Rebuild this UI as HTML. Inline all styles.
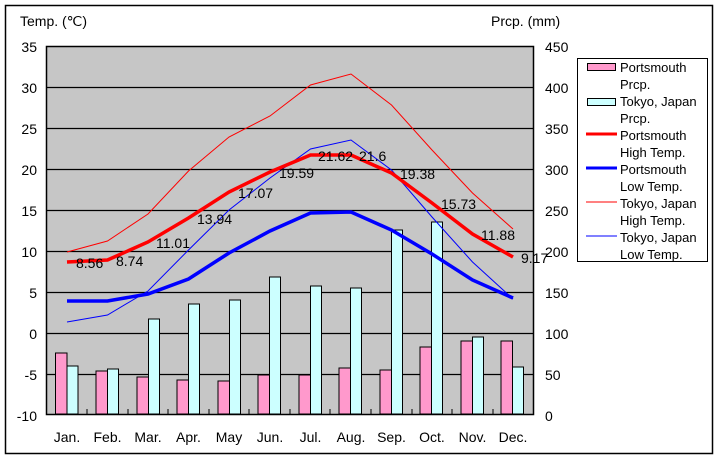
<!DOCTYPE html>
<html><head><meta charset="utf-8"><style>
body{margin:0;background:#fff}
svg text{font-family:"Liberation Sans",sans-serif}
</style></head><body>
<svg width="720" height="460" viewBox="0 0 720 460" xmlns="http://www.w3.org/2000/svg">
<rect x="0" y="0" width="720" height="460" fill="#fff"/>
<rect x="5.5" y="5.5" width="707" height="448" fill="none" stroke="#000" stroke-width="1.5"/>
<rect x="46.5" y="46.5" width="487" height="368" fill="#c6c6c6" stroke="#000" stroke-width="1.5"/>
<g stroke="#000" stroke-width="1.2">
<line x1="46" x2="533" y1="87.5" y2="87.5"/><line x1="46" x2="533" y1="128.5" y2="128.5"/>
<line x1="46" x2="533" y1="169.5" y2="169.5"/><line x1="46" x2="533" y1="210.5" y2="210.5"/>
<line x1="46" x2="533" y1="251.5" y2="251.5"/><line x1="46" x2="533" y1="292.5" y2="292.5"/>
<line x1="46" x2="533" y1="333.5" y2="333.5"/><line x1="46" x2="533" y1="374.5" y2="374.5"/>
</g>
<g stroke="#000" stroke-width="1">
<line x1="87" x2="87" y1="414" y2="409"/><line x1="128" x2="128" y1="414" y2="409"/><line x1="168" x2="168" y1="414" y2="409"/><line x1="209" x2="209" y1="414" y2="409"/><line x1="249" x2="249" y1="414" y2="409"/><line x1="290" x2="290" y1="414" y2="409"/><line x1="330" x2="330" y1="414" y2="409"/><line x1="371" x2="371" y1="414" y2="409"/><line x1="412" x2="412" y1="414" y2="409"/><line x1="452" x2="452" y1="414" y2="409"/><line x1="493" x2="493" y1="414" y2="409"/>
</g>
<g stroke="#000" stroke-width="1">
<rect x="55.5" y="353" width="11.5" height="61" fill="#ff99cc"/><rect x="67" y="366" width="11" height="48" fill="#ccffff"/>
<rect x="96" y="371" width="11.5" height="43" fill="#ff99cc"/><rect x="107.5" y="369" width="11" height="45" fill="#ccffff"/>
<rect x="137" y="377" width="11.5" height="37" fill="#ff99cc"/><rect x="148.5" y="319" width="11" height="95" fill="#ccffff"/>
<rect x="177" y="380" width="11.5" height="34" fill="#ff99cc"/><rect x="188.5" y="304" width="11" height="110" fill="#ccffff"/>
<rect x="218" y="381" width="11.5" height="33" fill="#ff99cc"/><rect x="229.5" y="300" width="11" height="114" fill="#ccffff"/>
<rect x="258" y="375" width="11.5" height="39" fill="#ff99cc"/><rect x="269.5" y="277" width="11" height="137" fill="#ccffff"/>
<rect x="299" y="375" width="11.5" height="39" fill="#ff99cc"/><rect x="310.5" y="286" width="11" height="128" fill="#ccffff"/>
<rect x="339" y="368" width="11.5" height="46" fill="#ff99cc"/><rect x="350.5" y="288" width="11" height="126" fill="#ccffff"/>
<rect x="380" y="370" width="11.5" height="44" fill="#ff99cc"/><rect x="391.5" y="230" width="11" height="184" fill="#ccffff"/>
<rect x="420" y="347" width="11.5" height="67" fill="#ff99cc"/><rect x="431.5" y="222" width="11" height="192" fill="#ccffff"/>
<rect x="461" y="341" width="11.5" height="73" fill="#ff99cc"/><rect x="472.5" y="337" width="11" height="77" fill="#ccffff"/>
<rect x="501" y="341" width="11.5" height="73" fill="#ff99cc"/><rect x="512.5" y="367" width="11" height="47" fill="#ccffff"/>
</g>
<polyline fill="none" stroke="#ff0000" stroke-width="1" points="67,252 107.5,241 148,214 188.5,171 229,137 270,116 310.5,85 351,74 391.5,105 432,150 472.5,193 513,229"/>
<polyline fill="none" stroke="#0000ff" stroke-width="1" points="67,322 107.5,315 148,291 188.5,250 229,210 270,178 310.5,149 351,140 391.5,170 432,217 472.5,262 513,299"/>
<polyline fill="none" stroke="#ff0000" stroke-width="3.5" points="67,262 107.5,260 148,242 188.5,218 229,192 270,172 310.5,155 351,155 391.5,173 432,203 472.5,234 513,257"/>
<polyline fill="none" stroke="#0000ff" stroke-width="3.5" points="67,301 107.5,301 148,294 188.5,279 229,253 270,231 310.5,213 351,212 391.5,230 432,254 472.5,280 513,298"/>
<g font-size="14" fill="#000">
<text x="76" y="268">8.56</text><text x="116" y="266">8.74</text><text x="156" y="248">11.01</text><text x="197" y="224">13.94</text><text x="238" y="198">17.07</text><text x="279" y="178">19.59</text><text x="318" y="161">21.62</text><text x="359" y="161">21.6</text><text x="400" y="179">19.38</text><text x="441" y="209">15.73</text><text x="481" y="240">11.88</text><text x="521" y="263">9.17</text>
</g>
<g font-size="14" fill="#000" text-anchor="end">
<text x="37" y="52">35</text><text x="37" y="93">30</text><text x="37" y="134">25</text><text x="37" y="175">20</text><text x="37" y="216">15</text><text x="37" y="257">10</text><text x="37" y="298">5</text><text x="37" y="339">0</text><text x="37" y="380">-5</text><text x="37" y="421">-10</text>
</g>
<g font-size="14" fill="#000">
<text x="545" y="52">450</text><text x="545" y="93">400</text><text x="545" y="134">350</text><text x="545" y="175">300</text><text x="545" y="216">250</text><text x="545" y="257">200</text><text x="545" y="298">150</text><text x="545" y="339">100</text><text x="545" y="380">50</text><text x="545" y="421">0</text>
<text x="20" y="26">Temp. (℃)</text><text x="491" y="26">Prcp. (mm)</text>
</g>
<g font-size="14" fill="#000" text-anchor="middle">
<text x="67" y="442">Jan.</text><text x="107.5" y="442">Feb.</text><text x="148" y="442">Mar.</text><text x="188.5" y="442">Apr.</text><text x="229" y="442">May</text><text x="270" y="442">Jun.</text><text x="310.5" y="442">Jul.</text><text x="351" y="442">Aug.</text><text x="391.5" y="442">Sep.</text><text x="432" y="442">Oct.</text><text x="472.5" y="442">Nov.</text><text x="513" y="442">Dec.</text>
</g>
<rect x="577.5" y="58.5" width="130" height="203" fill="#fff" stroke="#000" stroke-width="1"/>
<rect x="587.5" y="63.5" width="28" height="7" fill="#ff99cc" stroke="#000"/>
<rect x="587.5" y="98.5" width="28" height="7" fill="#ccffff" stroke="#000"/>
<line x1="586" x2="617" y1="134" y2="134" stroke="#ff0000" stroke-width="3"/>
<line x1="586" x2="617" y1="168" y2="168" stroke="#0000ff" stroke-width="3"/>
<line x1="586" x2="617" y1="202" y2="202" stroke="#ff0000" stroke-width="1"/>
<line x1="586" x2="617" y1="236" y2="236" stroke="#0000ff" stroke-width="1"/>
<g font-size="13" fill="#000">
<text x="620" y="72">Portsmouth</text><text x="620" y="89">Prcp.</text>
<text x="620" y="106">Tokyo, Japan</text><text x="620" y="123">Prcp.</text>
<text x="620" y="140">Portsmouth</text><text x="620" y="157">High Temp.</text>
<text x="620" y="174">Portsmouth</text><text x="620" y="191">Low Temp.</text>
<text x="620" y="208">Tokyo, Japan</text><text x="620" y="225">High Temp.</text>
<text x="620" y="242">Tokyo, Japan</text><text x="620" y="259">Low Temp.</text>
</g>
</svg>
</body></html>
